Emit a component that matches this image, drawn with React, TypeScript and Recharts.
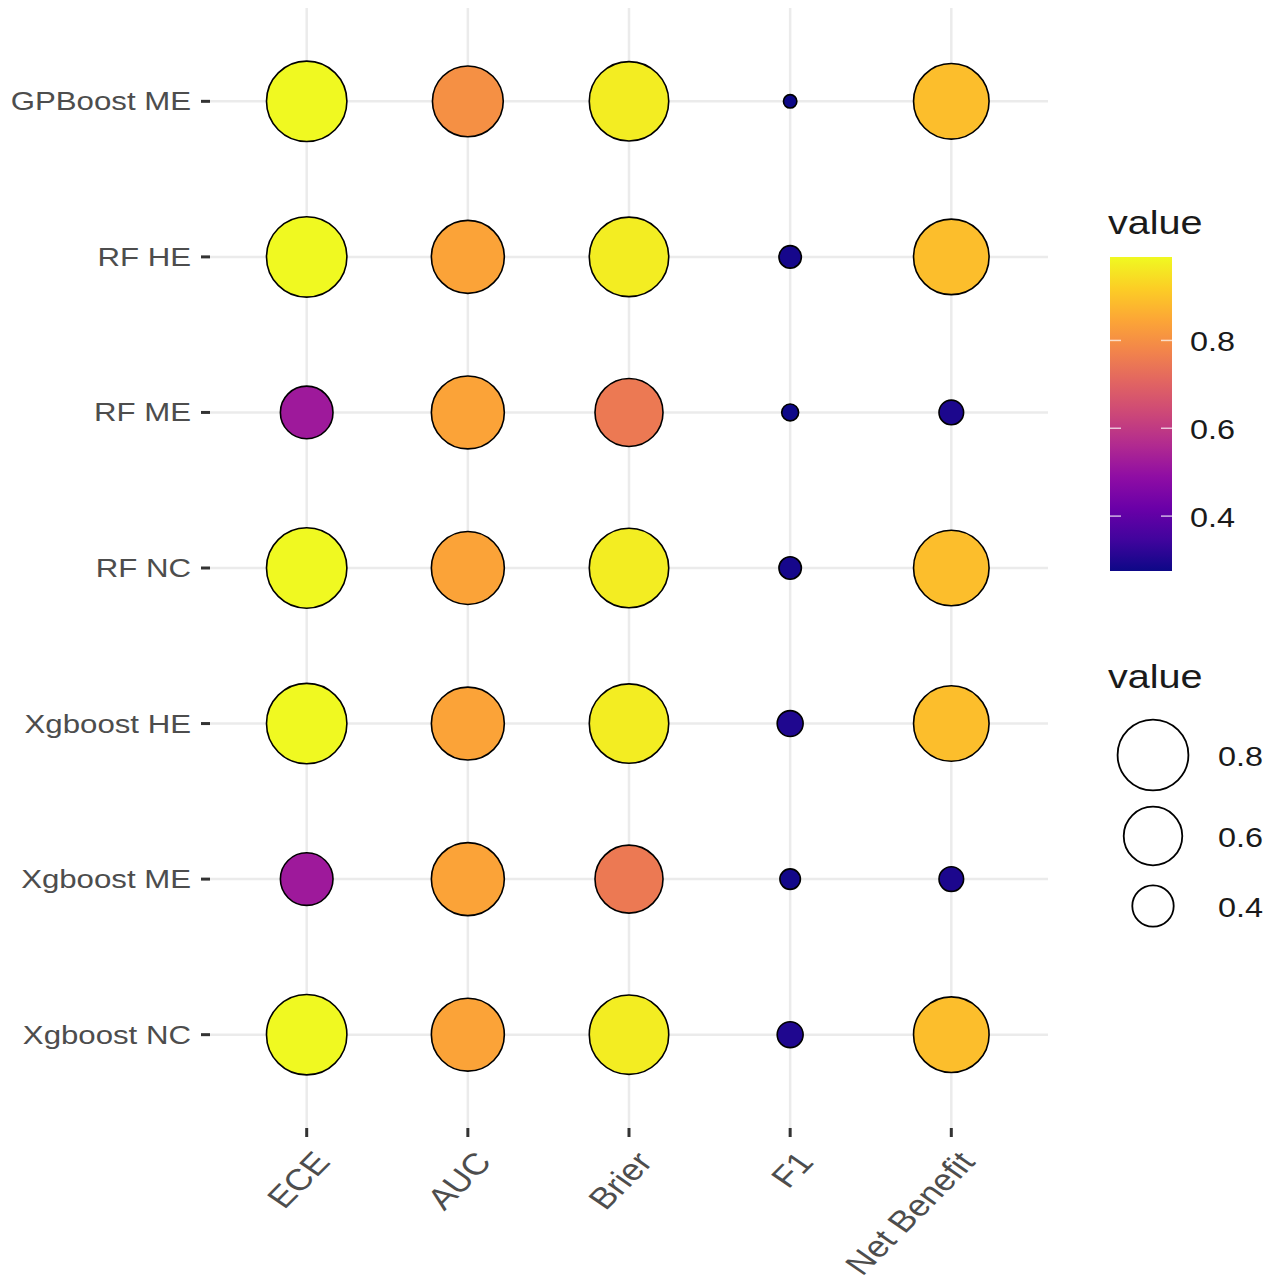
import { ScatterChart, Scatter, XAxis, YAxis, CartesianGrid } from 'recharts';

const models = ['GPBoost ME', 'RF HE', 'RF ME', 'RF NC', 'Xgboost HE', 'Xgboost ME', 'Xgboost NC'];
const metrics = ['ECE', 'AUC', 'Brier', 'F1', 'Net Benefit'];

// one array per metric, in the order of `models`
const ece = [0.99, 0.99, 0.52, 0.99, 0.99, 0.52, 0.99];
const auc = [0.8, 0.84, 0.84, 0.84, 0.84, 0.84, 0.84];
const brier = [0.97, 0.97, 0.75, 0.97, 0.97, 0.75, 0.97];
const f1 = [0.275, 0.288, 0.277, 0.288, 0.3, 0.283, 0.3];
const netBenefit = [0.89, 0.89, 0.295, 0.89, 0.89, 0.295, 0.89];

const colourBreaks = [0.8, 0.6, 0.4];
const sizeBreaks = [0.8, 0.6, 0.4];

const series = [ece, auc, brier, f1, netBenefit];
const data = models.flatMap((model, i) =>
  metrics.map((metric, j) => ({ x: j, y: i, model, metric, value: series[j][i] }))
);

const allValues = series.flat();
const vMin = Math.min(...allValues);
const vMax = Math.max(...allValues);

const plasmaStops = ['#0d0887', '#41049d', '#6a00a8', '#8f0da4', '#b12a90', '#cc4778', '#e16462', '#f2844b', '#fca636', '#fcce25', '#f0f921'];

function hex(c: string) {
  return [1, 3, 5].map((k) => parseInt(c.slice(k, k + 2), 16));
}

function plasma(t: number) {
  const s = Math.max(0, Math.min(1, t)) * (plasmaStops.length - 1);
  const i = Math.min(Math.floor(s), plasmaStops.length - 2);
  const f = s - i;
  const a = hex(plasmaStops[i]);
  const b = hex(plasmaStops[i + 1]);
  const c = a.map((v, k) => Math.round(v + (b[k] - v) * f));
  return `rgb(${c[0]},${c[1]},${c[2]})`;
}

const rescale = (v: number) => (v - vMin) / (vMax - vMin);
// ggplot-like area scale: diameter grows with sqrt of the rescaled value
const radius = (v: number) => 6.7 * (1 + 5 * Math.sqrt(Math.max(0, rescale(v))));

const font = '"Liberation Sans", Arial, sans-serif';
const stretch = 1.2; // the original picture is a bit wide
const xAngle = (Math.atan(stretch) * 180) / Math.PI; // looks like 45deg once stretched

const Bubble = (props: any) => {
  const { cx, cy, payload } = props;
  return (
    <circle cx={cx} cy={cy} r={radius(payload.value)} fill={plasma(rescale(payload.value))} stroke="#000" strokeWidth={1.6} />
  );
};

const XTick = (props: any) => {
  const { x, y, payload } = props;
  const tx = x + 5;
  const ty = y + 10;
  return (
    <g transform={`translate(${tx},${ty}) scale(${stretch},1) rotate(${-xAngle})`}>
      <text x={0} y={0} textAnchor="end" dominantBaseline="hanging" fontSize={30} fill="#4d4d4d" fontFamily={font}>
        {metrics[payload.value]}
      </text>
    </g>
  );
};

const YTick = (props: any) => {
  const { x, y, payload } = props;
  return (
    <g transform={`translate(${x},${y}) scale(${stretch},1)`}>
      <text x={0} y={0} textAnchor="end" dominantBaseline="central" fontSize={26} fill="#4d4d4d" fontFamily={font}>
        {models[payload.value]}
      </text>
    </g>
  );
};

const WideText = ({ x, y, size, children, middle }: any) => (
  <g transform={`translate(${x},${y}) scale(${stretch},1)`}>
    <text x={0} y={0} fontSize={size} fill="#1a1a1a" fontFamily={font} dominantBaseline={middle ? 'central' : 'auto'}>
      {children}
    </text>
  </g>
);

function Legends() {
  const barTop = 257;
  const barH = 314;
  const barX = 1110;
  const barW = 62;
  const yOf = (v: number) => barTop + ((vMax - v) / (vMax - vMin)) * barH;
  const sizeY = [755, 836, 906];
  return (
    <svg width={1273} height={1280} style={{ position: 'absolute', left: 0, top: 0, pointerEvents: 'none' }}>
      <defs>
        <linearGradient id="plasmaBar" x1="0" y1="1" x2="0" y2="0">
          {plasmaStops.map((c, k) => (
            <stop key={c} offset={k / (plasmaStops.length - 1)} stopColor={c} />
          ))}
        </linearGradient>
      </defs>
      <WideText x={1108} y={234} size={33}>value</WideText>
      <rect x={barX} y={barTop} width={barW} height={barH} fill="url(#plasmaBar)" />
      {colourBreaks.map((b) => (
        <g key={b}>
          <line x1={barX} x2={barX + 11} y1={yOf(b)} y2={yOf(b)} stroke="#fff" strokeWidth={1.5} opacity={0.7} />
          <line x1={barX + barW - 11} x2={barX + barW} y1={yOf(b)} y2={yOf(b)} stroke="#fff" strokeWidth={1.5} opacity={0.7} />
          <WideText x={1190} y={yOf(b) + 1} size={27} middle>{b.toFixed(1)}</WideText>
        </g>
      ))}
      <WideText x={1108} y={688} size={33}>value</WideText>
      {sizeBreaks.map((b, k) => (
        <g key={b}>
          <circle cx={1153} cy={sizeY[k]} r={radius(b)} fill="#fff" stroke="#000" strokeWidth={1.8} />
          <WideText x={1218} y={sizeY[k] + 1} size={27} middle>{b.toFixed(1)}</WideText>
        </g>
      ))}
    </svg>
  );
}

export default function App() {
  return (
    <div style={{ position: 'absolute', left: 0, top: 0, width: 1273, height: 1280, background: '#fff' }}>
      <ScatterChart width={1273} height={1280} margin={{ top: 8, right: 225, bottom: 0, left: 0 }}>
        <CartesianGrid stroke="#ebebeb" strokeWidth={2.5} syncWithTicks />
        <XAxis
          type="number"
          dataKey="x"
          domain={[-0.6, metrics.length - 0.4]}
          ticks={metrics.map((_, j) => j)}
          tick={<XTick />}
          height={152}
          axisLine={false}
          tickLine={{ stroke: '#333', strokeWidth: 3 }}
          tickSize={9}
          interval={0}
        />
        <YAxis
          type="number"
          dataKey="y"
          reversed
          domain={[-0.6, models.length - 0.4]}
          ticks={models.map((_, i) => i)}
          tick={<YTick />}
          width={210}
          axisLine={false}
          tickLine={{ stroke: '#333', strokeWidth: 3 }}
          tickSize={9}
          tickMargin={10}
          interval={0}
        />
        <Scatter data={data} shape={<Bubble />} isAnimationActive={false} />
      </ScatterChart>
      <Legends />
    </div>
  );
}
